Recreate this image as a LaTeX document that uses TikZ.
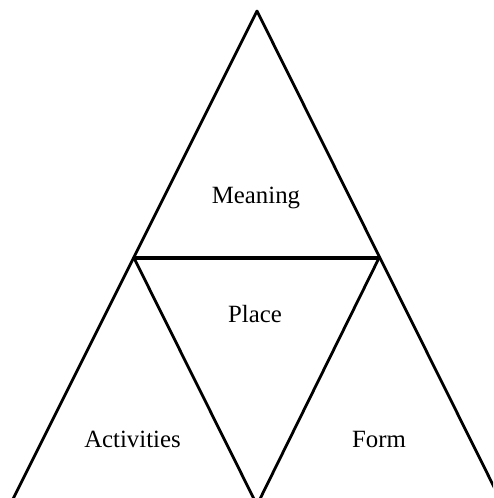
\documentclass[tikz,border=0pt]{standalone}
\usepackage{fontspec}
\setmainfont{Liberation Serif}
\begin{document}
\begin{tikzpicture}[x=1pt,y=-1pt,
  edge/.style={line width=2.8pt,line cap=round,line join=round},
  lbl/.style={font=\fontsize{24.8}{28}\selectfont,anchor=base,inner sep=0pt}]
\useasboundingbox (0,0) rectangle (493,498);
\clip (0,0) rectangle (493,498);
\coordinate (A) at (257,11);
\coordinate (ML) at (134,258);
\coordinate (MR) at (379,258);
\coordinate (BL) at (10,505);
\coordinate (BM) at (257,505);
\coordinate (BR) at (503,505);
\draw[edge] (BL) -- (A) -- (BR);
\draw[edge] (ML) -- (BM) -- (MR);
\draw[edge,line width=3.2pt] (ML) -- (MR);
\node[lbl] (meaning) at (256,203) {Meaning};
\node[lbl] (place) at (255,322) {Place};
\node[lbl] (activities) at (132.5,447) {Activities};
\node[lbl] (form) at (379,447) {Form};
\end{tikzpicture}
\end{document}
